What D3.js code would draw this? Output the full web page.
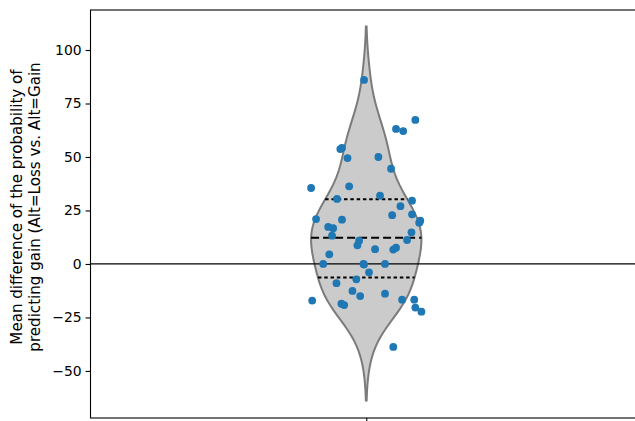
<!DOCTYPE html>
<html>
<head>
<meta charset="utf-8">
<script src="https://cdn.jsdelivr.net/npm/d3@7"></script>
<style>
  body { margin: 0; background: #fff; }
  svg { display: block; font-family: "DejaVu Sans", sans-serif; }
</style>
</head>
<body>
<svg id="chart" width="635" height="421"></svg>
<script>
// jitter offset from the category centre (x units) and value for each participant
const JITTER = [
  -0.004, 0.089, 0.054, 0.067, -0.047, -0.044, -0.034, 0.022, 0.045, -0.100,
  -0.031, -0.053, 0.025, 0.083, 0.062, 0.047, 0.083, -0.091, -0.044, 0.098,
  0.096, -0.069, -0.060, -0.062, 0.082, 0.074, -0.013, -0.016, 0.016, 0.054,
  0.049, -0.067, -0.078, -0.005, 0.034, -0.004, 0.005, -0.018, -0.054, -0.025,
  -0.011, 0.034, -0.098, -0.045, -0.040, 0.065, 0.087, 0.089, 0.100, 0.049,
];
const VALUES = [
  86.0, 67.3, 63.1, 62.1, 53.7, 54.2, 49.5, 50.0, 44.5, 35.5,
  36.3, 30.4, 31.9, 29.6, 27.0, 22.8, 23.2, 21.0, 20.7, 20.2,
  19.3, 17.3, 16.7, 13.2, 14.8, 11.2, 10.9, 8.7, 6.9, 7.6,
  6.7, 4.5, 0.0, 0.0, 0.0, -0.3, -3.9, -7.2, -9.0, -12.6,
  -15.0, -13.9, -17.1, -18.6, -19.2, -16.7, -16.7, -20.4, -22.3, -38.8,
];
const Y_TICKS = [-50, -25, 0, 25, 50, 75, 100];
const Y_LABEL = [
  "Mean difference of the probability of",
  "predicting gain (Alt=Loss vs. Alt=Gain",
];

const margin = { top: 10, right: -7, bottom: 3, left: 90.5 };
const width = 635;
const height = 421;

const svg = d3.select("#chart");

const x = d3.scaleLinear()
  .domain([-0.5, 0.5])
  .range([margin.left, width - margin.right]);
const y = d3.scaleLinear()
  .domain([-72, 118.7])
  .range([height - margin.bottom, margin.top]);

// gaussian kde, scott bandwidth, cut = 2 (seaborn defaults)
const n = VALUES.length;
const bw = d3.deviation(VALUES) * Math.pow(n, -1 / 5);
const kde = (v) => d3.sum(VALUES, (d) => Math.exp(-0.5 * ((v - d) / bw) ** 2));
const lo = d3.min(VALUES) - 2 * bw;
const hi = d3.max(VALUES) + 2 * bw;
const grid = d3.range(100).map((i) => lo + (i * (hi - lo)) / 99);
const density = grid.map((v) => ({ v, d: kde(v) }));
const maxD = d3.max(density, (p) => p.d);
const halfWidth = 0.1;
const w = (d) => (d / maxD) * halfWidth;

const area = d3.area()
  .y((p) => y(p.v))
  .x0((p) => x(-w(p.d)))
  .x1((p) => x(w(p.d)));

svg.append("path")
  .datum(density)
  .attr("d", area)
  .attr("fill", "#cbcbcb")
  .attr("stroke", "#7b7b7b")
  .attr("stroke-width", 2);

// quartile lines
const sorted = VALUES.slice().sort(d3.ascending);
const quarts = [
  { q: d3.quantileSorted(sorted, 0.25), dash: "3.5,2.8" },
  { q: d3.quantileSorted(sorted, 0.5), dash: "8,4" },
  { q: d3.quantileSorted(sorted, 0.75), dash: "3.5,2.8" },
];
svg.append("g")
  .selectAll("line")
  .data(quarts)
  .join("line")
  .attr("x1", (d) => x(-w(kde(d.q))))
  .attr("x2", (d) => x(w(kde(d.q))))
  .attr("y1", (d) => y(d.q))
  .attr("y2", (d) => y(d.q))
  .attr("stroke", "#000")
  .attr("stroke-width", 2)
  .attr("stroke-dasharray", (d) => d.dash);

// zero reference line
svg.append("line")
  .attr("x1", x(-0.5))
  .attr("x2", x(0.5))
  .attr("y1", y(0))
  .attr("y2", y(0))
  .attr("stroke", "#000")
  .attr("stroke-width", 1.2);

// jittered points
svg.append("g")
  .selectAll("circle")
  .data(VALUES.map((v, i) => ({ v, j: JITTER[i] })))
  .join("circle")
  .attr("cx", (d) => x(d.j))
  .attr("cy", (d) => y(d.v))
  .attr("r", 3.9)
  .attr("fill", "#1f77b4");

// axes
const yAxis = svg.append("g")
  .attr("transform", `translate(${margin.left},0)`)
  .call(d3.axisLeft(y).tickValues(Y_TICKS).tickSize(4.9).tickPadding(4));
yAxis.select(".domain").remove();
yAxis.selectAll("text").attr("font-size", 13.9).attr("fill", "#000")
  .attr("font-family", "DejaVu Sans, sans-serif");
yAxis.selectAll("line").attr("stroke-width", 1.1);

const xAxis = svg.append("g")
  .attr("transform", `translate(0,${height - margin.bottom})`)
  .call(d3.axisBottom(x).tickValues([0]).tickFormat("").tickSize(4.9));
xAxis.select(".domain").remove();
xAxis.selectAll("line").attr("stroke-width", 1.1);

// frame
svg.append("rect")
  .attr("x", x(-0.5))
  .attr("y", y.range()[1])
  .attr("width", x(0.5) - x(-0.5))
  .attr("height", y.range()[0] - y.range()[1])
  .attr("fill", "none")
  .attr("stroke", "#000")
  .attr("stroke-width", 1.1);

// y label, two centred lines
svg.append("g")
  .selectAll("text")
  .data(Y_LABEL)
  .join("text")
  .attr("transform", (d, i) => `translate(${22 + i * 17.5},207) rotate(-90)`)
  .attr("text-anchor", "middle")
  .attr("font-size", 15.1)
  .text((d) => d);
</script>
</body>
</html>
